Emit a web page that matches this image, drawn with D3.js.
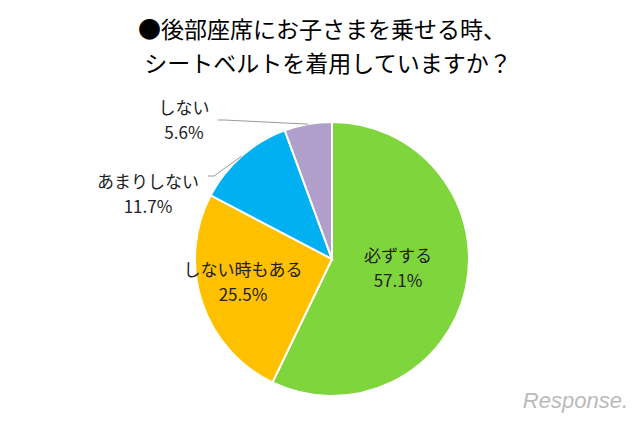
<!DOCTYPE html>
<html><head><meta charset="utf-8">
<script src="https://cdn.jsdelivr.net/npm/d3@7"></script>
<style>body{margin:0;background:#fff;font-family:"Noto Sans CJK JP","Noto Sans",sans-serif;}</style>
</head><body><div id="chart"></div>
<script>
const categories = ['必ずする', 'しない時もある', 'あまりしない', 'しない'];
const values = [57.1, 25.5, 11.7, 5.6];
const colors = ['#7ed63c', '#ffc000', '#00b0f0', '#b19fcb'];

const width = 640, height = 421;
const cx = 332, cy = 259, r = 137;

const svg = d3.select('#chart').append('svg').attr('width', width).attr('height', height);

// title
svg.append('text').attr('x', 322).attr('y', 38).attr('text-anchor', 'middle')
	.style('font-size', '23px').text('●後部座席にお子さまを乗せる時、');
svg.append('text').attr('x', 328).attr('y', 72).attr('text-anchor', 'middle')
	.style('font-size', '23px').text('シートベルトを着用していますか？');

const pie = d3.pie().sort(null).value((d) => d);
const arc = d3.arc().innerRadius(0).outerRadius(r);
const arcs = pie(values);

const g = svg.append('g').attr('transform', `translate(${cx},${cy})`);
g.selectAll('path').data(arcs).join('path')
	.attr('d', arc)
	.attr('fill', (d, i) => colors[i])
	.attr('stroke', '#fff')
	.attr('stroke-width', 2);

// label positions
const labelPos = [
	{ x: 398, y: 262, anchor: 'middle' },
	{ x: 243, y: 276, anchor: 'middle' },
	{ x: 148, y: 188, anchor: 'middle' },
	{ x: 184, y: 114, anchor: 'middle' },
];
categories.forEach((c, i) => {
	const p = labelPos[i];
	const t = svg.append('text').attr('text-anchor', p.anchor).style('font-size', '17px').attr('fill', '#222');
	t.append('tspan').attr('x', p.x).attr('y', p.y).text(c);
	t.append('tspan').attr('x', p.x).attr('y', p.y + 25).text(values[i] + '%');
});

// leader lines
const mid = (d) => (d.startAngle + d.endAngle) / 2;
const edge = (d) => [cx + Math.sin(mid(d)) * r, cy - Math.cos(mid(d)) * r];
const e2 = edge(arcs[2]), e3 = edge(arcs[3]);
svg.append('polyline').attr('points', `${e2[0]},${e2[1]} 214,176 208,176`)
	.attr('fill', 'none').attr('stroke', '#999');
svg.append('polyline').attr('points', `${e3[0]},${e3[1]} 224,120 218,120`)
	.attr('fill', 'none').attr('stroke', '#999');

// watermark
svg.append('text').attr('x', 628).attr('y', 408).attr('text-anchor', 'end')
	.style('font-size', '22px').style('font-style', 'italic').style('font-family', 'Liberation Sans')
	.attr('fill', '#bbb').text('Response.');
</script></body></html>
